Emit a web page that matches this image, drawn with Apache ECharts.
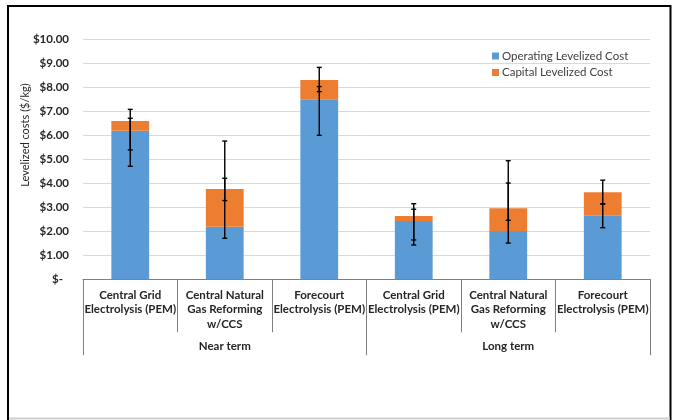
<!DOCTYPE html>
<html>
<head>
<meta charset="utf-8">
<script src="https://cdn.jsdelivr.net/npm/echarts@6/dist/echarts.min.js"></script>
<style>
  html, body { margin: 0; padding: 0; background: #fff; }
  #chart { width: 673px; height: 420px; }
</style>
</head>
<body>
<div id="chart"></div>
<script>
// Pathways and time frames
const categories = [
  'Central Grid\nElectrolysis (PEM)',
  'Central Natural\nGas Reforming\nw/CCS',
  'Forecourt\nElectrolysis (PEM)',
  'Central Grid\nElectrolysis (PEM)',
  'Central Natural\nGas Reforming\nw/CCS',
  'Forecourt\nElectrolysis (PEM)'
];
const groups = ['Near term', 'Long term'];

// Levelized cost components ($/kg)
const operatingCost = [6.19, 2.19, 7.50, 2.43, 2.01, 2.65];
const capitalCost = [0.41, 1.57, 0.80, 0.21, 0.95, 0.98];

// Uncertainty ranges [low, high] ($/kg)
const operatingRange = [[4.71, 6.71], [1.71, 4.21], [6.00, 8.03], [1.43, 2.92], [1.51, 4.01], [2.15, 3.14]];
const totalRange = [[5.39, 7.08], [3.28, 5.76], [7.82, 8.83], [1.64, 3.15], [2.46, 4.94], [3.14, 4.13]];

const yTicks = [0, 1, 2, 3, 4, 5, 6, 7, 8, 9, 10];

const FONT = 'Lato';
const TEXT = '#262626';

function errorBars(ranges) {
  return {
    type: 'custom',
    z: 5,
    data: ranges.map((r, i) => [i, r[0], r[1]]),
    encode: { x: 0, y: [1, 2] },
    tooltip: { show: false },
    renderItem: function (params, api) {
      const lo = api.coord([api.value(0), api.value(1)]);
      const hi = api.coord([api.value(0), api.value(2)]);
      const w = 2.5;
      const style = { stroke: '#000', lineWidth: 1.4 };
      return {
        type: 'group',
        children: [
          { type: 'line', shape: { x1: lo[0], y1: lo[1], x2: hi[0], y2: hi[1] }, style },
          { type: 'line', shape: { x1: lo[0] - w, y1: lo[1], x2: lo[0] + w, y2: lo[1] }, style },
          { type: 'line', shape: { x1: hi[0] - w, y1: hi[1], x2: hi[0] + w, y2: hi[1] }, style }
        ]
      };
    }
  };
}

const chart = echarts.init(document.getElementById('chart'), null, { renderer: 'canvas' });
chart.setOption({
  backgroundColor: '#fff',
  animation: false,
  textStyle: { fontFamily: FONT },
  grid: { left: 83, right: 23, top: 39.3, bottom: 140.7, containLabel: false },
  legend: {
    data: ['Operating Levelized Cost', 'Capital Levelized Cost'],
    orient: 'vertical',
    left: 487,
    top: 45,
    itemWidth: 7,
    itemHeight: 7,
    itemGap: 4.5,
    icon: 'rect',
    textStyle: { fontFamily: FONT, fontSize: 11.5, color: '#404040', padding: [0, 0, 0, -2] }
  },
  xAxis: [
    {
      type: 'category',
      data: categories,
      position: 'bottom',
      axisLine: { show: true, lineStyle: { color: '#7f7f7f', width: 1 } },
      axisTick: { show: true, length: 53, interval: 0, lineStyle: { color: '#7f7f7f', width: 1 } },
      axisLabel: {
        interval: 0,
        margin: 8.5,
        fontFamily: FONT,
        fontWeight: 'bold',
        fontSize: 11.5,
        lineHeight: 14.5,
        color: TEXT
      }
    },
    {
      type: 'category',
      data: groups,
      position: 'bottom',
      axisLine: { show: false },
      axisTick: { show: true, length: 76, interval: 0, lineStyle: { color: '#7f7f7f', width: 1 } },
      axisLabel: {
        interval: 0,
        margin: 61,
        fontFamily: FONT,
        fontWeight: 'bold',
        fontSize: 11.5,
        color: TEXT
      }
    }
  ],
  yAxis: {
    type: 'value',
    min: yTicks[0],
    max: yTicks[yTicks.length - 1],
    interval: 1,
    axisLine: { show: false },
    axisTick: { show: false },
    splitLine: { lineStyle: { color: '#d9d9d9', width: 1 } },
    axisLabel: {
      margin: 14,
      fontFamily: FONT,
      fontWeight: 'bold',
      fontSize: 11.5,
      color: TEXT,
      formatter: function (v) {
        return v === 0 ? '{z|$-}' : '$' + v.toFixed(2);
      },
      rich: {
        z: { fontFamily: FONT, fontWeight: 'bold', fontSize: 11.5, color: TEXT, padding: [0, 6, 0, 0] }
      }
    }
  },
  series: [
    {
      name: 'Operating Levelized Cost',
      type: 'bar',
      stack: 'cost',
      barWidth: '40%',
      itemStyle: { color: '#5B9BD5' },
      data: operatingCost
    },
    {
      name: 'Capital Levelized Cost',
      type: 'bar',
      stack: 'cost',
      barWidth: '40%',
      itemStyle: { color: '#ED7D31' },
      data: capitalCost
    },
    errorBars(operatingRange),
    errorBars(totalRange)
  ],
  graphic: [
    {
      type: 'text',
      x: 25,
      y: 135,
      rotation: Math.PI / 2,
      style: {
        text: 'Levelized costs ($/kg)',
        fontFamily: FONT,
        fontSize: 11,
        fill: TEXT,
        align: 'center',
        verticalAlign: 'middle'
      }
    },
    // outer frame
    { type: 'line', shape: { x1: 8, y1: 6, x2: 671, y2: 6 }, style: { stroke: '#000', lineWidth: 2 } },
    { type: 'line', shape: { x1: 8, y1: 5, x2: 8, y2: 420 }, style: { stroke: '#000', lineWidth: 2 } },
    { type: 'line', shape: { x1: 670.5, y1: 5, x2: 670.5, y2: 420 }, style: { stroke: '#000', lineWidth: 2 } },
    { type: 'line', shape: { x1: 9, y1: 418.5, x2: 670, y2: 418.5 }, style: { stroke: '#d0d0d0', lineWidth: 2 } }
  ]
});
</script>
</body>
</html>
